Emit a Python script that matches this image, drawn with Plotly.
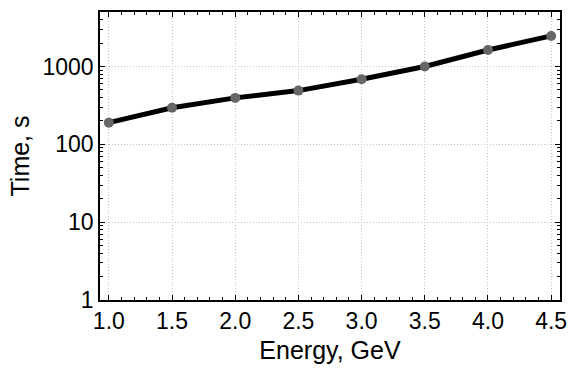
import plotly.graph_objects as go

energy = [1.0, 1.5, 2.0, 2.5, 3.0, 3.5, 4.0, 4.5]
time_s = [190, 295, 395, 490, 685, 1000, 1630, 2470]

x_ticks = [1.0, 1.5, 2.0, 2.5, 3.0, 3.5, 4.0, 4.5]
x_ticklabels = ["1.0", "1.5", "2.0", "2.5", "3.0", "3.5", "4.0", "4.5"]
y_ticks = [1, 10, 100, 1000]
y_ticklabels = ["1", "10", "100", "1000"]
y_minor = [m * 10 ** d for d in range(0, 4) for m in range(2, 10)]

fig = go.Figure()
fig.add_trace(go.Scatter(
    x=energy, y=time_s, mode="lines+markers",
    line=dict(color="black", width=5),
    marker=dict(color="#666666", size=10),
    showlegend=False,
))

font = "Liberation Sans, Arial, sans-serif"
fig.update_layout(
    width=577, height=370,
    margin=dict(l=100, r=10, t=10, b=70),
    plot_bgcolor="white", paper_bgcolor="white",
    font=dict(family=font, size=23, color="black"),
)
grid_kw = dict(showgrid=True, gridcolor="#c4c4c4", griddash="1px,2px", gridwidth=1)
fig.update_xaxes(
    range=[0.93, 4.57],
    tickvals=x_ticks, ticktext=x_ticklabels,
    ticks="inside", ticklen=5, tickwidth=1, tickcolor="black",
    showline=True, linecolor="black", linewidth=1.5, mirror="ticks",
    zeroline=False, **grid_kw,
    minor=dict(dtick=0.1, tick0=1.0, ticks="inside", ticklen=3, tickcolor="black", showgrid=False),
    title=dict(text="Energy, GeV", font=dict(size=25), standoff=8),
)
fig.update_yaxes(
    type="log", range=[0, 3.70],
    tickvals=y_ticks, ticktext=y_ticklabels,
    ticks="inside", ticklen=5, tickwidth=1, tickcolor="black",
    showline=True, linecolor="black", linewidth=1.5, mirror="ticks",
    zeroline=False, **grid_kw,
    minor=dict(tickvals=y_minor, ticks="inside", ticklen=3, tickcolor="black", showgrid=False),
    title=dict(text="Time, s", font=dict(size=25), standoff=6),
)

fig.write_html("out.html")
